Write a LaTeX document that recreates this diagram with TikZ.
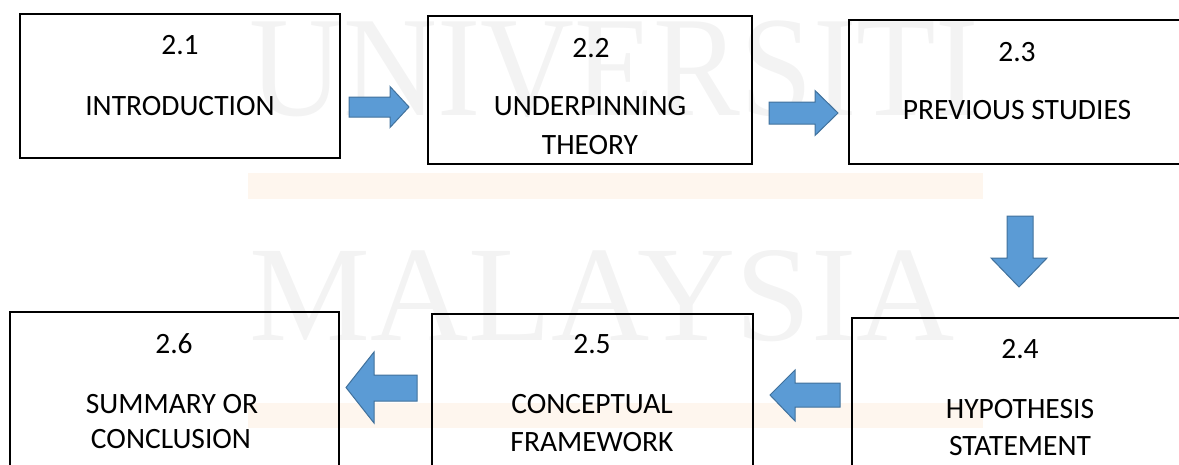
\documentclass[tikz,border=0pt]{standalone}
\usepackage{fontspec}
\setmainfont{Carlito}
\newfontfamily\markfont{Liberation Serif}
\definecolor{arrowfill}{HTML}{5B9BD5}
\definecolor{arrowline}{HTML}{41719C}
\definecolor{markgray}{HTML}{F3F3F3}
\definecolor{markband}{HTML}{FEF6EE}
\tikzset{
  box/.style={draw=black, line width=1.2pt, rectangle},
  lbl/.style={anchor=base, inner sep=0pt, font=\fontsize{29.5}{34}\selectfont},
  blockarrow/.style={fill=arrowfill, draw=arrowline, line width=1pt, line join=miter},
  markword/.style={anchor=base west, inner sep=0pt, text=markgray}
}
\begin{document}
\begin{tikzpicture}[x=1pt, y=-1pt]
\useasboundingbox (0,0) rectangle (1179,464);
\begin{scope}
\clip (0,0) rectangle (1179,464);

% faint background watermark
\fill[markband] (248,173) rectangle (983,199);
\fill[markband] (248,403) rectangle (983,428);
\node[markword, xscale=0.91] (wm1) at (249,115) {\markfont\fontsize{143}{143}\selectfont UNIVERSITI};
\node[markword] (wm2) at (249,340) {\markfont\fontsize{136}{136}\selectfont MALAYSIA};

% section boxes
\node[box, minimum width=320pt, minimum height=144pt] (b21) at (180,86) {};
\node[box, minimum width=324pt, minimum height=148pt] (b22) at (590,90) {};
\node[box, minimum width=360pt, minimum height=144pt] (b23) at (1029,92) {};
\node[box, minimum width=329pt, minimum height=180pt] (b26) at (174.5,402) {};
\node[box, minimum width=321pt, minimum height=180pt] (b25) at (592.5,404) {};
\node[box, minimum width=360pt, minimum height=180pt] (b24) at (1032,408) {};

% box texts
\node[lbl] (n21) at (180,54) {2.1};
\node[lbl] (t21) at (180,115) {INTRODUCTION};

\node[lbl] (n22) at (591,57) {2.2};
\node[lbl] (t22a) at (590,115) {UNDERPINNING};
\node[lbl] (t22b) at (590,154) {THEORY};

\node[lbl] (n23) at (1017,61) {2.3};
\node[lbl] (t23) at (1017,119) {PREVIOUS STUDIES};

\node[lbl] (n24) at (1020,358) {2.4};
\node[lbl] (t24a) at (1020,418) {HYPOTHESIS};
\node[lbl] (t24b) at (1020,455) {STATEMENT};

\node[lbl] (n25) at (592,353) {2.5};
\node[lbl] (t25a) at (592,413) {CONCEPTUAL};
\node[lbl] (t25b) at (592,451) {FRAMEWORK};

\node[lbl] (n26) at (174,353) {2.6};
\node[lbl] (t26a) at (172,413) {SUMMARY OR};
\node[lbl] (t26b) at (171,448) {CONCLUSION};

% block arrows between the boxes
% 2.1 -> 2.2
\filldraw[blockarrow] (349,97) -- (390,97) -- (390,86.5) -- (409,107)
  -- (390,127.5) -- (390,117) -- (349,117) -- cycle;
% 2.2 -> 2.3
\filldraw[blockarrow] (769,102) -- (815,102) -- (815,90.5) -- (838,113)
  -- (815,135.5) -- (815,124) -- (769,124) -- cycle;
% 2.3 -> 2.4
\filldraw[blockarrow] (1007,216) -- (1007,258) -- (991,258) -- (1019,287)
  -- (1047,258) -- (1033,258) -- (1033,216) -- cycle;
% 2.4 -> 2.5
\filldraw[blockarrow] (840,383) -- (795,383) -- (795,370) -- (770,395)
  -- (795,421) -- (795,407) -- (840,407) -- cycle;
% 2.5 -> 2.6
\filldraw[blockarrow] (417,375) -- (374,375) -- (374,352) -- (346,387.5)
  -- (374,423) -- (374,401) -- (417,401) -- cycle;
\end{scope}
\end{tikzpicture}
\end{document}
